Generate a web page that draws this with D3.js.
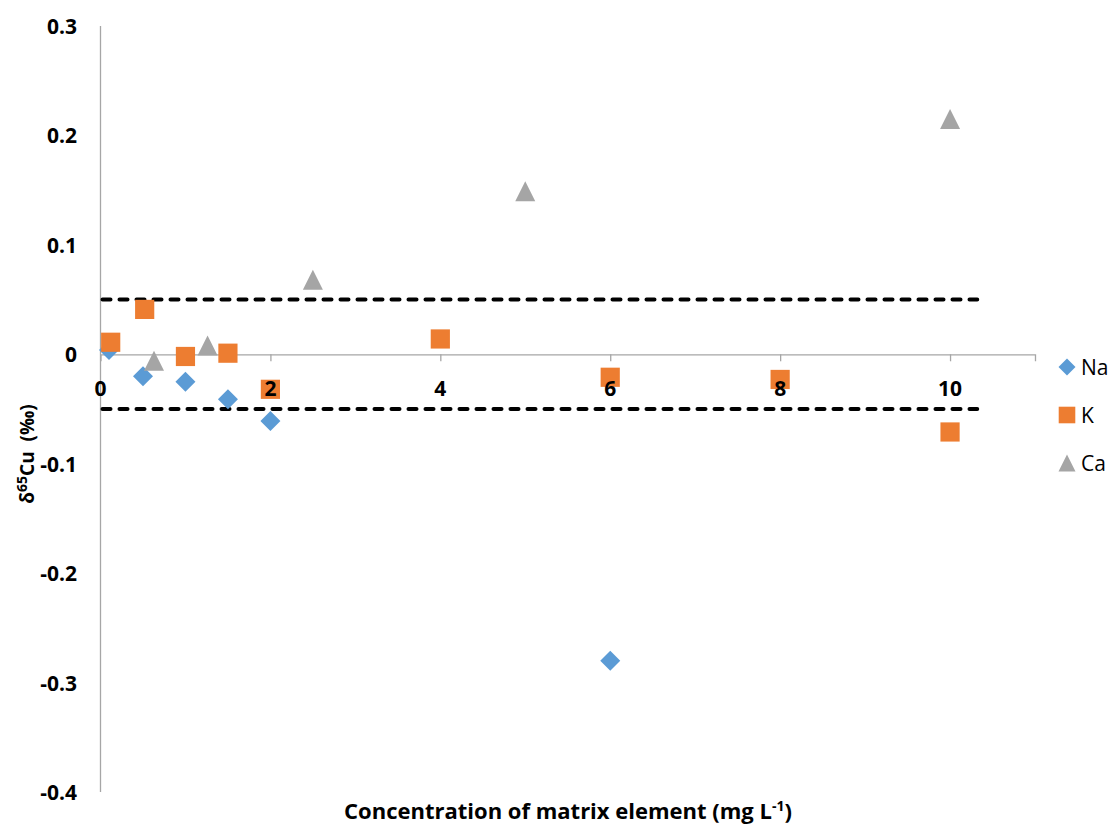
<!DOCTYPE html>
<html>
<head>
<meta charset="utf-8">
<script src="https://cdn.jsdelivr.net/npm/d3@7"></script>
<style>
  body { margin: 0; background: #fff; }
  text { font-family: "Open Sans", Lato, sans-serif; white-space: pre; }
</style>
</head>
<body>
<div id="chart"></div>
<script>
// concentrations (mg/L) and delta65Cu values (per mil)
const naX = [0.1, 0.5, 1, 1.5, 2, 6];
const naY = [0.004, -0.020, -0.025, -0.041, -0.061, -0.280];
const kX = [0.12, 0.52, 1, 1.5, 2, 4, 6, 8, 10];
const kY = [0.011, 0.041, -0.002, 0.001, -0.032, 0.014, -0.021, -0.023, -0.071];
const caX = [0.63, 1.26, 2.5, 5, 10];
const caY = [-0.006, 0.008, 0.068, 0.149, 0.215];

const xTicks = [0, 2, 4, 6, 8, 10];
const yTicks = [0.3, 0.2, 0.1, 0, -0.1, -0.2, -0.3, -0.4];
const limits = [0.05, -0.05];
const limitSpan = [0, 10.32];

const width = 1113;
const height = 826;

const svg = d3.select("#chart").append("svg")
    .attr("width", width)
    .attr("height", height);

const x = d3.scaleLinear().domain([0, 11]).range([100.5, 1035]);
const y = d3.scaleLinear().domain([-0.4, 0.3]).range([792, 26]);

const axisColor = "#a6a6a6";

// y axis line, no ticks
svg.append("line")
    .attr("x1", x(0)).attr("x2", x(0))
    .attr("y1", y(0.3)).attr("y2", y(-0.4))
    .attr("stroke", axisColor).attr("stroke-width", 1.3);

// x axis crosses at zero
const xAxis = svg.append("g")
    .attr("transform", `translate(0,${y(0)})`)
    .call(d3.axisBottom(x).tickValues(xTicks.slice(1)).tickSize(7).tickFormat(""));
xAxis.select(".domain").attr("stroke", axisColor).attr("stroke-width", 1.3);
xAxis.selectAll(".tick line").attr("stroke", axisColor).attr("stroke-width", 1.3);

// +/- 0.05 limits
svg.append("g").selectAll("line")
    .data(limits)
    .join("line")
    .attr("x1", x(limitSpan[0]) + 2).attr("x2", x(limitSpan[1]))
    .attr("y1", d => y(d)).attr("y2", d => y(d))
    .attr("stroke", "#000")
    .attr("stroke-width", 4)
    .attr("stroke-linecap", "round")
    .attr("stroke-dasharray", "8,9");

const shapes = {
    diamond: s => `M0,${-s}L${s},0L0,${s}L${-s},0Z`,
    square: s => `M${-s},${-s}H${s}V${s}H${-s}Z`,
    triangle: s => `M0,${-s}L${s},${s}H${-s}Z`
};

const series = [
    { name: "Na", xs: naX, ys: naY, color: "#5b9bd5", shape: "diamond", size: 10 },
    { name: "K", xs: kX, ys: kY, color: "#ed7d31", shape: "square", size: 9.6 },
    { name: "Ca", xs: caX, ys: caY, color: "#a5a5a5", shape: "triangle", size: 10 }
];

series.forEach(s => {
    svg.append("g").selectAll("path")
        .data(d3.zip(s.xs, s.ys))
        .join("path")
        .attr("transform", d => `translate(${x(d[0])},${y(d[1])})`)
        .attr("d", shapes[s.shape](s.size))
        .attr("fill", s.color);
});

// tick labels (drawn above the markers)
svg.append("g")
    .attr("text-anchor", "middle")
    .style("font-size", "21px")
    .style("font-weight", "bold")
    .selectAll("text")
    .data(xTicks)
    .join("text")
    .attr("x", d => x(d))
    .attr("y", y(0) + 42)
    .text(d => d);

svg.append("g")
    .attr("text-anchor", "end")
    .style("font-size", "21px")
    .style("font-weight", "bold")
    .selectAll("text")
    .data(yTicks)
    .join("text")
    .attr("x", 77)
    .attr("y", d => y(d) + 8)
    .text(d => d === 0 ? "0" : d.toFixed(1));

// axis titles
const xTitle = svg.append("text")
    .attr("x", 568)
    .attr("y", 819)
    .attr("text-anchor", "middle")
    .style("font-size", "22px")
    .style("font-weight", "bold")
    .text("Concentration of matrix element (mg L");
xTitle.append("tspan").attr("dy", -8).style("font-size", "14px").text("-1");
xTitle.append("tspan").attr("dy", 8).text(")");

const yTitle = svg.append("text")
    .attr("transform", "translate(34,454) rotate(-90)")
    .attr("text-anchor", "middle")
    .style("font-size", "19px")
    .style("font-weight", "bold")
    .text("δ");
yTitle.append("tspan").attr("dy", -7).style("font-size", "14px").text("65");
yTitle.append("tspan").attr("dy", 7).text("Cu  (‰)");

// legend
const legend = svg.append("g").selectAll("g")
    .data(series)
    .join("g")
    .attr("transform", (d, i) => `translate(1067,${367 + i * 48})`);
legend.append("path")
    .attr("d", d => shapes[d.shape](d.shape === "square" ? 8.3 : 8.5))
    .attr("fill", d => d.color);
legend.append("text")
    .attr("x", 14)
    .attr("y", 8)
    .style("font-size", "21px")
    .text(d => d.name);
</script>
</body>
</html>
